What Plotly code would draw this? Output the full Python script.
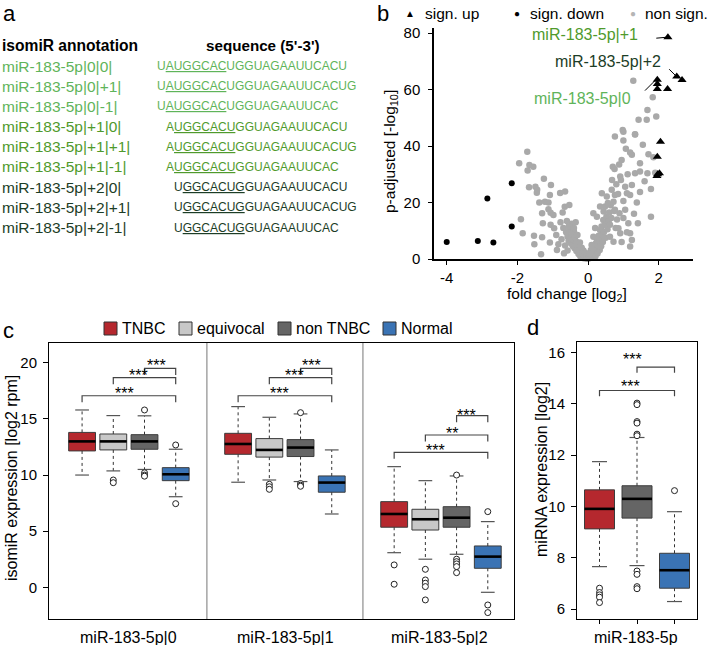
import plotly.graph_objects as go

W, H = 711, 645
FONT = "Liberation Sans, Arial, Helvetica, sans-serif"

# ---------------- panel a data ----------------
isomir_labels = ["miR-183-5p|0|0|", "miR-183-5p|0|+1|", "miR-183-5p|0|-1|",
                 "miR-183-5p|+1|0|", "miR-183-5p|+1|+1|", "miR-183-5p|+1|-1|",
                 "miR-183-5p|+2|0|", "miR-183-5p|+2|+1|", "miR-183-5p|+2|-1|"]
isomir_seqs = ["UAUGGCACUGGUAGAAUUCACU", "UAUGGCACUGGUAGAAUUCACUG", "UAUGGCACUGGUAGAAUUCAC",
               "AUGGCACUGGUAGAAUUCACU", "AUGGCACUGGUAGAAUUCACUG", "AUGGCACUGGUAGAAUUCAC",
               "UGGCACUGGUAGAAUUCACU", "UGGCACUGGUAGAAUUCACUG", "UGGCACUGGUAGAAUUCAC"]
LIGHT, MID, DARK = "#5fb45a", "#4f9a2c", "#1c3d26"
row_colors = [LIGHT] * 3 + [MID] * 3 + [DARK] * 3

# ---------------- panel b data (volcano) ----------------
up_x = [2.26, 2.51, 2.66, 1.96, 1.96, 1.96, 2.25, 2.05, 1.96, 1.97, 2.02, 1.95]
up_y = [78.5, 64.6, 63.4, 63.5, 62.0, 60.2, 60.2, 41.5, 36.2, 30.0, 30.4, 29.4]
down_x = [-4.0, -3.12, -2.68, -2.16, -2.16, -2.85]
down_y = [6.0, 6.4, 5.8, 11.5, 26.8, 21.4]
ns_pts = [
    (-1.95, 33.9), (-1.72, 38.0), (-1.66, 33.3), (-1.55, 32.7), (-1.71, 31.3), (-1.67, 25.4),
    (-1.49, 25.6), (-1.44, 24.5), (-1.45, 23.5), (-1.25, 28.4), (-1.05, 26.2), (-1.38, 20.0),
    (-1.22, 20.3), (-1.12, 20.0), (-1.08, 22.7), (-1.30, 16.2), (-1.12, 17.6), (-1.06, 16.4),
    (-0.98, 15.6), (-1.90, 14.1), (-1.85, 9.1), (-1.28, 12.7), (-1.06, 12.1), (-0.96, 10.9),
    (-1.53, 8.2), (-1.52, 5.2), (-1.30, 7.7), (-1.08, 5.8), (-0.84, 5.2), (-1.33, 1.7),
    (-0.79, 23.4), (-0.72, 16.5), (-0.78, 13.0), (-0.66, 18.5), (-0.70, 11.0), (-0.65, 23.9),
    (-0.53, 19.1),
    (-0.62, 9.5), (-0.58, 8.0), (-0.55, 6.5), (-0.52, 10.2), (-0.50, 7.2), (-0.48, 5.5),
    (-0.47, 12.5), (-0.45, 8.8), (-0.43, 4.5), (-0.42, 6.8), (-0.40, 9.8), (-0.38, 3.8),
    (-0.37, 7.5), (-0.35, 5.2), (-0.33, 2.8), (-0.32, 6.0), (-0.30, 8.5), (-0.28, 4.2),
    (-0.27, 1.8), (-0.25, 3.3), (-0.23, 5.8), (-0.22, 1.0), (-0.20, 2.5), (-0.18, 4.0),
    (-0.17, 0.6), (-0.15, 1.8), (-0.13, 3.0), (-0.12, 0.3), (-0.10, 1.2), (-0.08, 2.2),
    (-0.06, 0.5), (-0.05, 0.2), (-0.03, 0.9), (-0.02, 0.1), (-0.58, 3.0), (-0.65, 4.8),
    (-0.68, 2.0), (-0.55, 11.5), (-0.60, 13.5), (-0.40, 11.0), (-0.35, 13.0), (-0.90, 8.5),
    (-0.75, 7.0), (-0.88, 3.2),
    (0.02, 0.2), (0.04, 0.8), (0.06, 0.4), (0.08, 1.5), (0.10, 0.9), (0.12, 2.2), (0.13, 0.5),
    (0.15, 3.0), (0.16, 1.6), (0.18, 4.2), (0.19, 2.4), (0.21, 1.0), (0.22, 5.5), (0.24, 3.5),
    (0.25, 6.8), (0.27, 2.0), (0.28, 4.8), (0.30, 8.2), (0.31, 5.8), (0.33, 3.2), (0.34, 10.3),
    (0.35, 7.0), (0.37, 4.5), (0.38, 11.5), (0.40, 8.5), (0.42, 6.0), (0.43, 13.8), (0.45, 9.6),
    (0.47, 12.0), (0.48, 18.6), (0.50, 7.5), (0.52, 15.0), (0.53, 22.1), (0.55, 10.5),
    (0.57, 13.5), (0.58, 13.2), (0.60, 16.5), (0.62, 12.1), (0.62, 7.9), (0.64, 19.0),
    (0.66, 14.5), (0.67, 24.5), (0.70, 32.7), (0.72, 20.3), (0.72, 6.1), (0.74, 17.0),
    (0.75, 31.9), (0.76, 22.7), (0.76, 17.4), (0.78, 11.0), (0.80, 26.5), (0.82, 14.0),
    (0.86, 10.9), (0.89, 16.2), (0.91, 29.2), (0.91, 9.1), (0.93, 28.0), (0.95, 35.1),
    (0.98, 45.7), (1.00, 20.5), (1.05, 25.6), (1.05, 17.4), (1.07, 39.0), (1.10, 23.3),
    (1.14, 12.7), (1.19, 22.7), (1.19, 37.7), (1.19, 9.1), (1.24, 36.9), (1.24, 26.2),
    (1.24, 6.7), (1.19, 4.4), (1.28, 63.1), (1.33, 44.2), (1.33, 30.4), (1.38, 20.0),
    (1.41, 12.7), (1.43, 49.3), (1.47, 33.9), (1.47, 31.0), (1.47, 23.7), (1.66, 49.3),
    (1.68, 52.8), (1.68, 30.4), (1.71, 37.1), (1.78, 24.8), (1.78, 15.0), (1.83, 57.3),
    (1.93, 50.5), (0.39, 23.3), (0.34, 18.6), (0.15, 16.2), (0.25, 15.0), (0.15, 7.9),
    (0.25, 5.6), (0.34, 4.4), (0.20, 11.0), (0.10, 5.0), (0.08, 3.2), (0.05, 2.0),
    (0.44, 16.8), (0.56, 19.8), (0.68, 28.0), (0.85, 23.0), (0.88, 33.5), (1.00, 42.0),
    (1.12, 30.0), (1.30, 16.0), (1.55, 40.5), (1.60, 27.5), (1.90, 30.5), (1.85, 36.0),
    (1.00, 14.5), (0.95, 6.0), (1.10, 9.5), (0.76, 43.4), (1.33, 44.1), (1.00, 45.1),
]
ns_x = [p[0] for p in ns_pts]
ns_y = [p[1] for p in ns_pts]
volcano_labels = ["miR-183-5p|+1", "miR-183-5p|+2", "miR-183-5p|0"]

# ---------------- panel c data (isomiR boxplots) ----------------
groups = ["TNBC", "equivocal", "non TNBC", "Normal"]
group_colors = ["#b5282e", "#c8c8c8", "#656565", "#3a73b4"]
isomirs = ["miR-183-5p|0", "miR-183-5p|1", "miR-183-5p|2"]
c_upper = [[15.8, 15.3, 15.28, 12.3], [16.1, 15.15, 15.45, 12.24], [10.75, 9.5, 9.92, 5.85]]
c_q3 = [[13.8, 13.66, 13.6, 10.66], [13.72, 13.25, 13.16, 9.92], [7.63, 6.95, 7.18, 3.68]]
c_med = [[13.0, 13.0, 13.0, 10.07], [12.77, 12.24, 12.45, 9.33], [6.53, 6.06, 6.2, 2.73]]
c_q1 = [[12.15, 12.24, 12.3, 9.5], [11.85, 11.6, 11.65, 8.47], [5.35, 5.1, 5.35, 1.69]]
c_lower = [[10.0, 10.37, 10.5, 8.07], [9.36, 9.56, 9.42, 6.53], [3.08, 2.5, 2.94, -0.45]]
c_out = [
    [[], [9.56, 9.32], [15.8, 10.2, 10.0, 9.9], [12.68, 7.45]],
    [[], [9.18, 8.96, 8.73], [15.56, 9.25, 9.1, 9.0], []],
    [[1.99, 0.27], [1.6, 0.65, 0.36, 0.06, -1.13], [10.0, 2.5, 2.28, 2.08, 1.84, 1.3], [6.74, -1.58, -2.26]],
]
# significance: (left position, right position, bracket y, label, label x, label y)
c_sig = [
    (3, 4, 19.5, "***", 3.4, 20.1), (2, 4, 18.68, "***", 2.8, 19.2), (1, 4, 17.07, "***", 2.36, 17.67),
    (8, 9, 19.5, "***", 8.36, 20.1), (7, 9, 18.68, "***", 7.8, 19.2), (6, 9, 17.07, "***", 7.34, 17.67),
    (13, 14, 15.29, "***", 13.32, 15.65), (12, 14, 13.57, "**", 12.85, 14.02), (11, 14, 12.03, "***", 12.32, 12.53),
]

# ---------------- panel d data (miRNA boxplot) ----------------
d_groups = ["TNBC", "non TNBC", "Normal"]
d_colors = ["#b5282e", "#656565", "#3a73b4"]
d_upper = [11.75, 12.69, 9.8]
d_q3 = [10.65, 10.81, 8.18]
d_med = [9.91, 10.3, 7.52]
d_q1 = [9.13, 9.55, 6.82]
d_lower = [7.66, 7.7, 6.3]
d_out = [[6.82, 6.65, 6.56, 6.47, 6.26],
         [14.03, 13.97, 13.31, 13.25, 12.82, 12.76, 7.49, 7.36, 6.88, 6.8],
         [10.62]]
d_sig = [(2, 3, 15.43, "***", 1.87, 15.88), (1, 3, 14.52, "***", 1.83, 14.83)]

# ======================================================================
fig = go.Figure()
ann = []
shapes = []


def px2paper(px, py):
    return px / W, 1 - py / H


def txt(text, px, py, size=14, color="black", xa="left", ya="middle", angle=0, bold=False):
    if bold:
        text = "<b>" + text + "</b>"
    x, y = px2paper(px, py)
    ann.append(dict(text=text, x=x, y=y, xref="paper", yref="paper", xanchor=xa, yanchor=ya,
                    showarrow=False, textangle=angle, borderpad=0,
                    font=dict(family=FONT, size=size, color=color)))


# ---------------- panel a ----------------
txt("a", 2, 13, size=22)
txt("isomiR annotation", 1, 45, size=15.6, bold=True)
txt("sequence (5'-3')", 205, 45, size=15.2, bold=True)
seq_x0 = [156, 156, 156, 164.7, 164.7, 164.7, 172.7, 172.7, 172.7]
for i, (lab, seq) in enumerate(zip(isomir_labels, isomir_seqs)):
    py = 66 + 20.2 * i
    txt(lab, 1, py, size=15.5, color=row_colors[i])
    s = seq[0] + "<u>" + seq[1:8] + "</u>" + seq[8:]
    txt(s, seq_x0[i], py, size=12, color=row_colors[i])

# ---------------- panel b ----------------
fig.add_trace(go.Scatter(x=ns_x, y=ns_y, mode="markers", xaxis="x", yaxis="y",
                         marker=dict(size=6.5, color="#a9a9a9"), cliponaxis=False,
                         showlegend=False, hoverinfo="skip"))
fig.add_trace(go.Scatter(x=down_x, y=down_y, mode="markers", xaxis="x", yaxis="y",
                         marker=dict(size=6, color="black"), cliponaxis=False,
                         showlegend=False, hoverinfo="skip"))
fig.add_trace(go.Scatter(x=up_x, y=up_y, mode="markers", xaxis="x", yaxis="y",
                         marker=dict(size=8, color="black", symbol="triangle-up"), cliponaxis=False,
                         showlegend=False, hoverinfo="skip"))
txt("b", 376, 14, size=22)
txt("\u25b2", 410, 13, size=10, xa="center")
txt("sign. up", 424, 13, size=15.5)
txt("\u25cf", 517, 13, size=10, xa="center")
txt("sign. down", 529, 13, size=15.5)
txt("\u25cf", 633, 13, size=10, xa="center", color="#b5b5b5")
txt("non sign.", 644, 13, size=15.5)
txt(volcano_labels[0], 585, 35, size=16, color=MID, xa="center")
txt(volcano_labels[1], 608, 62, size=16, color=DARK, xa="center")
txt(volcano_labels[2], 582, 99, size=16, color=LIGHT, xa="center")
for (x, y, ax, ay) in [(up_x[0] - 0.06, up_y[0], -11, 1), (up_x[1] - 0.03, up_y[1] + 0.3, -8, -8),
                      (up_x[3] - 0.08, up_y[3] - 0.5, -11, 11)]:
    ann.append(dict(x=x, y=y, xref="x", yref="y", text="", showarrow=True, arrowhead=0,
                    arrowwidth=1, arrowcolor="black", ax=ax, ay=ay, standoff=0))
txt("p-adjusted [-log<sub>10</sub>]", 390, 152, size=15.5, xa="center", angle=-90)
txt("fold change [log<sub>2</sub>]", 567, 295, size=15.5, xa="center")

# ---------------- panel c ----------------
BOX_W = 0.86
wx, wy, cx, cy, mx, my, ox, oy = [], [], [], [], [], [], [], []
for gi in range(3):
    for k in range(4):
        pos = gi * 5 + k + 1
        fig.add_trace(go.Box(x=[pos], q1=[c_q1[gi][k]], median=[c_med[gi][k]], q3=[c_q3[gi][k]],
                             lowerfence=[c_q1[gi][k]], upperfence=[c_q3[gi][k]], width=BOX_W,
                             fillcolor=group_colors[k], line=dict(color="#3c3c3c", width=1),
                             whiskerwidth=0, xaxis="x2", yaxis="y2", showlegend=False,
                             hoverinfo="skip"))
        wx += [pos, pos, None, pos, pos, None]
        wy += [c_q3[gi][k], c_upper[gi][k], None, c_q1[gi][k], c_lower[gi][k], None]
        cx += [pos - 0.22, pos + 0.22, None, pos - 0.22, pos + 0.22, None]
        cy += [c_upper[gi][k], c_upper[gi][k], None, c_lower[gi][k], c_lower[gi][k], None]
        mx += [pos - BOX_W / 2, pos + BOX_W / 2, None]
        my += [c_med[gi][k], c_med[gi][k], None]
        for v in c_out[gi][k]:
            ox.append(pos)
            oy.append(v)
fig.add_trace(go.Scatter(x=wx, y=wy, mode="lines", xaxis="x2", yaxis="y2",
                         line=dict(color="#333", width=1, dash="3px,3px"), showlegend=False, hoverinfo="skip"))
fig.add_trace(go.Scatter(x=cx, y=cy, mode="lines", xaxis="x2", yaxis="y2",
                         line=dict(color="#555", width=1.2), showlegend=False, hoverinfo="skip"))
fig.add_trace(go.Scatter(x=mx, y=my, mode="lines", xaxis="x2", yaxis="y2",
                         line=dict(color="black", width=2.6), showlegend=False, hoverinfo="skip"))
fig.add_trace(go.Scatter(x=ox, y=oy, mode="markers", xaxis="x2", yaxis="y2", cliponaxis=False,
                         marker=dict(size=6, color="white", line=dict(color="#222", width=1)),
                         showlegend=False, hoverinfo="skip"))
bx, by = [], []
for (l, r, y, lab, lx, ly) in c_sig:
    bx += [l, l, r, r, None]
    by += [y - 0.58, y, y, y - 0.58, None]
    ann.append(dict(text=lab, x=lx, y=ly, xref="x2", yref="y2", xanchor="center", yanchor="middle",
                    yshift=-4, showarrow=False, font=dict(family=FONT, size=16, color="black")))
fig.add_trace(go.Scatter(x=bx, y=by, mode="lines", xaxis="x2", yaxis="y2",
                         line=dict(color="#444", width=1.2), showlegend=False, hoverinfo="skip"))
for sep in [5, 10]:
    shapes.append(dict(type="line", xref="x2", yref="y2 domain", x0=sep, x1=sep, y0=0, y1=1,
                       line=dict(color="#777", width=1)))
txt("c", 2, 330, size=22)
leg_sq = [104, 179, 278, 383]
for k, g in enumerate(groups):
    x0, y0 = px2paper(leg_sq[k], 322)
    x1, y1 = px2paper(leg_sq[k] + 13, 335)
    shapes.append(dict(type="rect", xref="paper", yref="paper", x0=x0, x1=x1, y0=y0, y1=y1,
                       fillcolor=group_colors[k], line=dict(color="#333", width=1)))
    txt(g, leg_sq[k] + 17, 328.5, size=16)
txt("isomiR expression [log2 rpm]", 11, 478, size=16, xa="center", angle=-90)
for gi, lab in enumerate(isomirs):
    txt(lab, [128, 285, 439][gi], 637, size=16, xa="center")

# ---------------- panel d ----------------
DBOX_W = 0.8
wx, wy, cx, cy, mx, my, ox, oy = [], [], [], [], [], [], [], []
for k in range(3):
    pos = k + 1
    fig.add_trace(go.Box(x=[pos], q1=[d_q1[k]], median=[d_med[k]], q3=[d_q3[k]],
                         lowerfence=[d_q1[k]], upperfence=[d_q3[k]], width=DBOX_W,
                         fillcolor=d_colors[k], line=dict(color="#3c3c3c", width=1),
                         whiskerwidth=0, xaxis="x3", yaxis="y3", showlegend=False, hoverinfo="skip"))
    wx += [pos, pos, None, pos, pos, None]
    wy += [d_q3[k], d_upper[k], None, d_q1[k], d_lower[k], None]
    cx += [pos - 0.2, pos + 0.2, None, pos - 0.2, pos + 0.2, None]
    cy += [d_upper[k], d_upper[k], None, d_lower[k], d_lower[k], None]
    mx += [pos - DBOX_W / 2, pos + DBOX_W / 2, None]
    my += [d_med[k], d_med[k], None]
    for v in d_out[k]:
        ox.append(pos)
        oy.append(v)
fig.add_trace(go.Scatter(x=wx, y=wy, mode="lines", xaxis="x3", yaxis="y3",
                         line=dict(color="#333", width=1, dash="3px,3px"), showlegend=False, hoverinfo="skip"))
fig.add_trace(go.Scatter(x=cx, y=cy, mode="lines", xaxis="x3", yaxis="y3",
                         line=dict(color="#555", width=1.2), showlegend=False, hoverinfo="skip"))
fig.add_trace(go.Scatter(x=mx, y=my, mode="lines", xaxis="x3", yaxis="y3",
                         line=dict(color="black", width=2.6), showlegend=False, hoverinfo="skip"))
fig.add_trace(go.Scatter(x=ox, y=oy, mode="markers", xaxis="x3", yaxis="y3", cliponaxis=False,
                         marker=dict(size=6, color="white", line=dict(color="#222", width=1)),
                         showlegend=False, hoverinfo="skip"))
bx, by = [], []
for (l, r, y, lab, lx, ly) in d_sig:
    bx += [l, l, r, r, None]
    by += [y - 0.22, y, y, y - 0.22, None]
    ann.append(dict(text=lab, x=lx, y=ly, xref="x3", yref="y3", xanchor="center", yanchor="middle",
                    yshift=-4, showarrow=False, font=dict(family=FONT, size=16, color="black")))
fig.add_trace(go.Scatter(x=bx, y=by, mode="lines", xaxis="x3", yaxis="y3",
                         line=dict(color="#444", width=1.2), showlegend=False, hoverinfo="skip"))
txt("d", 526, 327, size=22)
txt("miRNA expression [log2]", 541, 470, size=16, xa="center", angle=-90)
txt("miR-183-5p", 636, 637, size=16, xa="center")

# ---------------- axes ----------------
tick_font = dict(family=FONT, size=15, color="black")
common = dict(showgrid=False, zeroline=False, tickfont=tick_font, ticks="outside",
              tickcolor="black", linecolor="black", automargin=False)
fig.update_layout(
    width=W, height=H, margin=dict(l=0, r=0, t=0, b=0, autoexpand=False),
    paper_bgcolor="white", plot_bgcolor="white", showlegend=False,
    font=dict(family=FONT, color="black"),
    xaxis=dict(domain=[434 / W, 693 / W], range=[-4.36, 2.97], tickvals=[-4, -2, 0, 2],
               ticktext=["-4", "-2", "0", "2"], showline=True, linewidth=1.5, ticklen=4,
               anchor="y", **common),
    yaxis=dict(domain=[1 - 259 / H, 1 - 28 / H], range=[0, 81.8], tickvals=[0, 20, 40, 60, 80],
               showline=True, linewidth=1.5, ticklen=4, ticklabelstandoff=5, anchor="x", **common),
    xaxis2=dict(domain=[49 / W, 514 / W], range=[-0.06, 14.84], showticklabels=False, ticks="",
                showline=True, mirror=True, linecolor="black", linewidth=1, showgrid=False,
                zeroline=False, anchor="y2", automargin=False),
    yaxis2=dict(domain=[1 - 619 / H, 1 - 343 / H], range=[-2.83, 21.77], tickvals=[0, 5, 10, 15, 20],
                showline=True, mirror=True, linewidth=1, ticklen=5, ticklabelstandoff=3,
                anchor="x2", **common),
    xaxis3=dict(domain=[577 / W, 697 / W], range=[0.4, 3.6], tickvals=[1, 2, 3], showticklabels=False,
                showline=True, mirror=True, linewidth=1, ticklen=4, anchor="y3", **common),
    yaxis3=dict(domain=[1 - 619 / H, 1 - 342 / H], range=[5.62, 16.41], tickvals=[6, 8, 10, 12, 14, 16],
                showline=True, mirror=True, linewidth=1, ticklen=5, ticklabelstandoff=3,
                anchor="x3", **common),
    annotations=ann, shapes=shapes,
)

fig.write_html("out.html", config={"displayModeBar": False},
               post_script="document.body.style.margin='0px';document.body.style.overflow='hidden';")
